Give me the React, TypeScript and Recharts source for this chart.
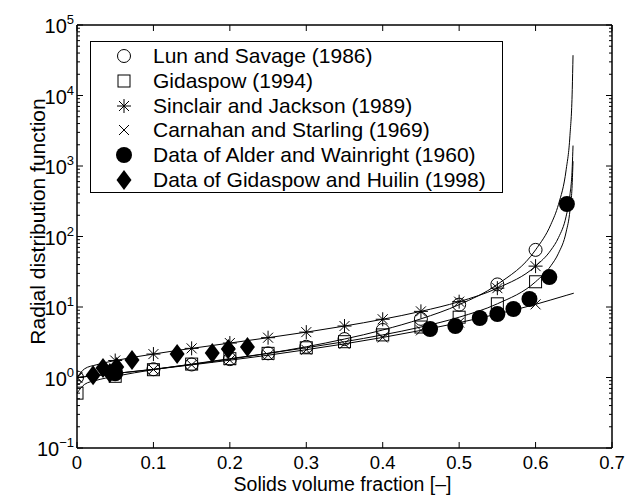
import React from 'react';
import { ComposedChart, Line, Scatter, XAxis, YAxis, Legend } from 'recharts';

const FONT = '"Liberation Sans", Arial, Helvetica, sans-serif';

// model curves (g0 vs solids fraction)
const curveX = [0, 0.01, 0.025, 0.05, 0.1, 0.15, 0.2, 0.25, 0.3, 0.35, 0.4, 0.45, 0.5, 0.55, 0.6, 0.62, 0.63, 0.64, 0.645, 0.648, 0.649];
const lunSavage = [1, 1.026, 1.066, 1.14, 1.31, 1.53, 1.82, 2.2, 2.73, 3.51, 4.72, 6.79, 10.8, 20.9, 64.6, 148, 286, 883, 2720, 12100, 37300];
const gidaspow = [0.6, 0.8, 0.91, 1.04, 1.29, 1.55, 1.85, 2.2, 2.64, 3.22, 4.02, 5.2, 7.17, 11.1, 22.8, 38.4, 57.9, 116, 234, 585, 1170];
const sinclairJackson = [1, 1.33, 1.51, 1.74, 2.15, 2.59, 3.08, 3.67, 4.4, 5.37, 6.7, 8.67, 11.9, 18.5, 38, 64, 96.5, 194, 390, 975, 1950];

const csX = [0, 0.01, 0.025, 0.05, 0.1, 0.15, 0.2, 0.25, 0.3, 0.35, 0.4, 0.45, 0.5, 0.55, 0.6, 0.62, 0.64, 0.65];
const carnahanStarling = [1, 1.026, 1.065, 1.14, 1.3, 1.51, 1.76, 2.07, 2.48, 3.0, 3.7, 4.66, 6.0, 7.96, 10.9, 12.6, 14.6, 15.7];

// markers on the model curves
const markerX = [0, 0.05, 0.1, 0.15, 0.2, 0.25, 0.3, 0.35, 0.4, 0.45, 0.5, 0.55, 0.6];

// experimental data
const alderX = [0.05, 0.462, 0.495, 0.527, 0.55, 0.571, 0.592, 0.618, 0.641];
const alderG = [1.15, 4.87, 5.37, 6.98, 7.95, 9.37, 12.98, 26.6, 289];
const huilinX = [0.021, 0.034, 0.043, 0.052, 0.072, 0.131, 0.177, 0.198, 0.223];
const huilinG = [1.08, 1.36, 1.16, 1.41, 1.77, 2.15, 2.23, 2.54, 2.71];

const xTicks = [0, 0.1, 0.2, 0.3, 0.4, 0.5, 0.6, 0.7];
const xTickLabels = ['0', '0.1', '0.2', '0.3', '0.4', '0.5', '0.6', '0.7'];
const yMajorTicks = [0.1, 1, 10, 100, 1000, 10000, 100000];
const yTicks: number[] = [];
yMajorTicks.forEach((d, i) => {
	yTicks.push(d);
	if (i < yMajorTicks.length - 1) {
		for (let m = 2; m <= 9; m++) yTicks.push(d * m);
	}
});

const toPoints = (xs: number[], ys: number[]) => xs.map((x, i) => ({ x, g: ys[i] }));
const pick = (pts: { x: number; g: number }[]) => pts.filter((p) => markerX.includes(p.x));

const lunLine = toPoints(curveX, lunSavage);
const gidLine = toPoints(curveX, gidaspow);
const sjLine = toPoints(curveX, sinclairJackson);
const csLine = toPoints(csX, carnahanStarling);
const alderData = toPoints(alderX, alderG);
const huilinData = toPoints(huilinX, huilinG);

type Kind = 'circle' | 'square' | 'star' | 'cross' | 'dot' | 'diamond';

const Marker = ({ kind, cx, cy }: { kind: Kind; cx: number; cy: number }) => {
	const s = { stroke: '#000', strokeWidth: 1, fill: 'none' };
	switch (kind) {
		case 'circle':
			return <circle cx={cx} cy={cy} r={6.5} {...s} />;
		case 'square':
			return <rect x={cx - 6} y={cy - 6} width={12} height={12} {...s} />;
		case 'star':
			return (
				<g {...s}>
					<line x1={cx - 7} y1={cy} x2={cx + 7} y2={cy} />
					<line x1={cx} y1={cy - 7} x2={cx} y2={cy + 7} />
					<line x1={cx - 5} y1={cy - 5} x2={cx + 5} y2={cy + 5} />
					<line x1={cx - 5} y1={cy + 5} x2={cx + 5} y2={cy - 5} />
				</g>
			);
		case 'cross':
			return (
				<g {...s}>
					<line x1={cx - 5} y1={cy - 5} x2={cx + 5} y2={cy + 5} />
					<line x1={cx - 5} y1={cy + 5} x2={cx + 5} y2={cy - 5} />
				</g>
			);
		case 'dot':
			return <circle cx={cx} cy={cy} r={8} fill="#000" />;
		default:
			return (
				<polygon
					points={`${cx},${cy - 10} ${cx + 7.5},${cy} ${cx},${cy + 10} ${cx - 7.5},${cy}`}
					fill="#000"
				/>
			);
	}
};

const shapeOf = (kind: Kind) => (props: any) => <Marker kind={kind} cx={props.cx} cy={props.cy} />;

const legendItems: { label: string; kind: Kind }[] = [
	{ label: 'Lun and Savage (1986)', kind: 'circle' },
	{ label: 'Gidaspow (1994)', kind: 'square' },
	{ label: 'Sinclair and Jackson (1989)', kind: 'star' },
	{ label: 'Carnahan and Starling (1969)', kind: 'cross' },
	{ label: 'Data of Alder and Wainright (1960)', kind: 'dot' },
	{ label: 'Data of Gidaspow and Huilin (1998)', kind: 'diamond' }
];

const LegendBox = () => (
	<div
		style={{
			width: 413,
			height: 152,
			boxSizing: 'border-box',
			border: '1.5px solid #000',
			background: '#fff',
			padding: '2px 0',
			fontFamily: FONT,
			fontSize: 21,
			color: '#000'
		}}
	>
		{legendItems.map((item) => (
			<div key={item.label} style={{ height: 24.7, display: 'flex', alignItems: 'center' }}>
				<svg width={22} height={24} style={{ marginLeft: 22, flex: 'none' }}>
					<Marker kind={item.kind} cx={11} cy={12} />
				</svg>
				<span style={{ marginLeft: 18, whiteSpace: 'nowrap', lineHeight: '24px' }}>{item.label}</span>
			</div>
		))}
	</div>
);

const expText = (v: number) => {
	const e = Math.round(Math.log10(v));
	return e < 0 ? '\u2212' + Math.abs(e) : String(e);
};

const LeftTick = (props: any) => {
	const { x, y, payload } = props;
	const major = yMajorTicks.includes(payload.value);
	return (
		<g>
			<line x1={x} x2={x + (major ? 6 : 3)} y1={y} y2={y} stroke="#000" />
			{major && (
				<text x={x - 3} y={y + 8} textAnchor="end" fontSize={20} fill="#000" fontFamily={FONT}>
					10
					<tspan dy={-9} fontSize={13}>
						{expText(payload.value)}
					</tspan>
				</text>
			)}
		</g>
	);
};

const RightTick = (props: any) => {
	const { x, y, payload } = props;
	const major = yMajorTicks.includes(payload.value);
	return <line x1={x} x2={x - (major ? 6 : 3)} y1={y} y2={y} stroke="#000" />;
};

const BottomTick = (props: any) => {
	const { x, y, index } = props;
	return (
		<g>
			<line x1={x} x2={x} y1={y} y2={y - 6} stroke="#000" />
			<text x={x} y={y + 21} textAnchor="middle" fontSize={18.5} fill="#000" fontFamily={FONT}>
				{xTickLabels[index]}
			</text>
		</g>
	);
};

const TopTick = (props: any) => {
	const { x, y } = props;
	return <line x1={x} x2={x} y1={y} y2={y + 6} stroke="#000" />;
};

const XTitle = (props: any) => {
	const vb = props.viewBox;
	return (
		<text x={vb.x + vb.width / 2 - 2} y={vb.y + 43} textAnchor="middle" fontSize={19.5} fill="#000" fontFamily={FONT}>
			Solids volume fraction [–]
		</text>
	);
};

const YTitle = (props: any) => {
	const vb = props.viewBox;
	const cx = vb.x + vb.width - 40;
	const cy = vb.y + vb.height / 2 - 15;
	return (
		<text
			x={cx}
			y={cy}
			transform={`rotate(-90 ${cx} ${cy})`}
			textAnchor="middle"
			dominantBaseline="central"
			fontSize={21}
			fill="#000"
			fontFamily={FONT}
		>
			Radial distribution function
		</text>
	);
};

const axisLine = { stroke: '#000', strokeWidth: 1.5 };

export default function App() {
	return (
		<div style={{ position: 'absolute', left: 0, top: 0, background: '#fff' }}>
			<ComposedChart width={627} height={495} margin={{ top: 24, right: 14, bottom: 46, left: 76 }}>
				<XAxis
					xAxisId="bottom"
					type="number"
					dataKey="x"
					domain={[0, 0.7]}
					ticks={xTicks}
					interval={0}
					height={1}
					tickSize={0}
					tickMargin={0}
					tickLine={false}
					axisLine={axisLine}
					tick={<BottomTick />}
					label={<XTitle />}
					allowDataOverflow
				/>
				<XAxis
					xAxisId="top"
					orientation="top"
					type="number"
					dataKey="x"
					domain={[0, 0.7]}
					ticks={xTicks}
					interval={0}
					height={1}
					tickSize={0}
					tickMargin={0}
					tickLine={false}
					axisLine={axisLine}
					tick={<TopTick />}
					allowDataOverflow
				/>
				<YAxis
					yAxisId="left"
					scale="log"
					type="number"
					dataKey="g"
					domain={[0.1, 100000]}
					ticks={yTicks}
					interval={0}
					width={1}
					tickSize={0}
					tickMargin={0}
					tickLine={false}
					axisLine={axisLine}
					tick={<LeftTick />}
					label={<YTitle />}
					allowDataOverflow
				/>
				<YAxis
					yAxisId="right"
					orientation="right"
					scale="log"
					type="number"
					dataKey="g"
					domain={[0.1, 100000]}
					ticks={yTicks}
					interval={0}
					width={1}
					tickSize={0}
					tickMargin={0}
					tickLine={false}
					axisLine={axisLine}
					tick={<RightTick />}
					allowDataOverflow
				/>
				<Legend
					layout="vertical"
					align="center"
					verticalAlign="middle"
					wrapperStyle={{ left: 90, top: 41, width: 413 }}
					content={<LegendBox />}
				/>
				<Line xAxisId="bottom" yAxisId="left" data={lunLine} dataKey="g" type="monotone" dot={false} stroke="#000" strokeWidth={1} isAnimationActive={false} />
				<Line xAxisId="bottom" yAxisId="left" data={gidLine} dataKey="g" type="monotone" dot={false} stroke="#000" strokeWidth={1} isAnimationActive={false} />
				<Line xAxisId="bottom" yAxisId="left" data={sjLine} dataKey="g" type="monotone" dot={false} stroke="#000" strokeWidth={1} isAnimationActive={false} />
				<Line xAxisId="bottom" yAxisId="left" data={csLine} dataKey="g" type="monotone" dot={false} stroke="#000" strokeWidth={1} isAnimationActive={false} />
				<Scatter xAxisId="bottom" yAxisId="left" data={pick(lunLine)} dataKey="g" shape={shapeOf('circle')} isAnimationActive={false} />
				<Scatter xAxisId="bottom" yAxisId="left" data={pick(gidLine)} dataKey="g" shape={shapeOf('square')} isAnimationActive={false} />
				<Scatter xAxisId="bottom" yAxisId="left" data={pick(sjLine)} dataKey="g" shape={shapeOf('star')} isAnimationActive={false} />
				<Scatter xAxisId="bottom" yAxisId="left" data={pick(csLine)} dataKey="g" shape={shapeOf('cross')} isAnimationActive={false} />
				<Scatter xAxisId="bottom" yAxisId="left" data={alderData} dataKey="g" shape={shapeOf('dot')} isAnimationActive={false} />
				<Scatter xAxisId="bottom" yAxisId="left" data={huilinData} dataKey="g" shape={shapeOf('diamond')} isAnimationActive={false} />
			</ComposedChart>
		</div>
	);
}
